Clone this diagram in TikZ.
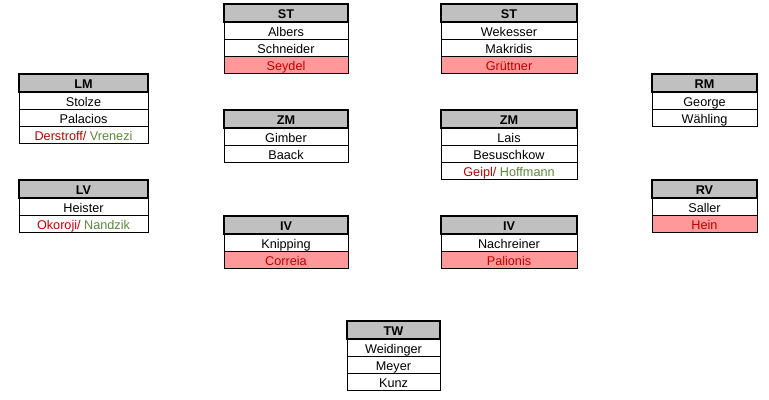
\documentclass[tikz,border=0pt]{standalone}
\usepackage{fontspec}
\setmainfont{Liberation Sans}
\definecolor{hdrgray}{HTML}{C0C0C0}
\definecolor{redfill}{HTML}{FF9999}
\definecolor{redtext}{HTML}{C00000}
\definecolor{greentext}{HTML}{5A8A3C}
\tikzset{
  cellbase/.style={rectangle, draw=black, line width=0.75pt, inner sep=0pt, outer sep=0pt,
    anchor=north west, minimum height=12.75pt, text height=8.8pt, text depth=0pt,
    font=\fontsize{9.5pt}{11pt}\selectfont},
  cell/.style={cellbase, fill=white},
  redcell/.style={cellbase, fill=redfill, text=redtext},
  hdr/.style={cellbase, fill=hdrgray, line width=1.5pt, minimum height=13.5pt,
    font=\fontsize{9.5pt}{11pt}\selectfont\bfseries},
}
\newcommand\hd[5]{\node[hdr, minimum width=#4*0.75pt] (#1) at (#2,#3) {#5};}
\newcommand\cl[6]{\node[#5, minimum width=#4*0.75pt] (#1) at (#2,#3) {#6};}
\newcommand\rd[1]{\textcolor{redtext}{#1}}
\newcommand\gr[1]{\textcolor{greentext}{#1}}
\begin{document}
\begin{tikzpicture}[x=0.75pt,y=-0.75pt]
\useasboundingbox[fill=white] (0,0) rectangle (769,400);
% ST left
\cl{sta1}{224}{22}{124}{cell}{Albers}
\cl{sta2}{224}{39}{124}{cell}{Schneider}
\cl{sta3}{224}{56}{124}{redcell}{Seydel}
\hd{sta}{224}{4}{124}{ST}
% ST right
\cl{stb1}{441}{22}{136}{cell}{Wekesser}
\cl{stb2}{441}{39}{136}{cell}{Makridis}
\cl{stb3}{441}{56}{136}{redcell}{Grüttner}
\hd{stb}{441}{4}{136}{ST}
% LM
\cl{lm1}{19}{92}{129}{cell}{Stolze}
\cl{lm2}{19}{109}{129}{cell}{Palacios}
\cl{lm3}{19}{126}{129}{cell}{\rd{Derstroff/} \gr{Vrenezi}}
\hd{lm}{19}{74}{129}{LM}
% RM
\cl{rm1}{652}{92}{105}{cell}{George}
\cl{rm2}{652}{109}{105}{cell}{Wähling}
\hd{rm}{652}{74}{105}{RM}
% ZM left
\cl{zma1}{224}{128}{124}{cell}{Gimber}
\cl{zma2}{224}{145}{124}{cell}{Baack}
\hd{zma}{224}{110}{124}{ZM}
% ZM right
\cl{zmb1}{441}{128}{136}{cell}{Lais}
\cl{zmb2}{441}{145}{136}{cell}{Besuschkow}
\cl{zmb3}{441}{162}{136}{cell}{\rd{Geipl/} \gr{Hoffmann}}
\hd{zmb}{441}{110}{136}{ZM}
% LV
\cl{lv1}{19}{198}{129}{cell}{Heister}
\cl{lv2}{19}{215}{129}{cell}{\rd{Okoroji/} \gr{Nandzik}}
\hd{lv}{19}{180}{129}{LV}
% RV
\cl{rv1}{652}{198}{105}{cell}{Saller}
\cl{rv2}{652}{215}{105}{redcell}{Hein}
\hd{rv}{652}{180}{105}{RV}
% IV left
\cl{iva1}{224}{234}{124}{cell}{Knipping}
\cl{iva2}{224}{251}{124}{redcell}{Correia}
\hd{iva}{224}{216}{124}{IV}
% IV right
\cl{ivb1}{441}{234}{136}{cell}{Nachreiner}
\cl{ivb2}{441}{251}{136}{redcell}{Palionis}
\hd{ivb}{441}{216}{136}{IV}
% TW
\cl{tw1}{347}{339}{93}{cell}{Weidinger}
\cl{tw2}{347}{356}{93}{cell}{Meyer}
\cl{tw3}{347}{373}{93}{cell}{Kunz}
\hd{tw}{347}{321}{93}{TW}
\end{tikzpicture}
\end{document}
